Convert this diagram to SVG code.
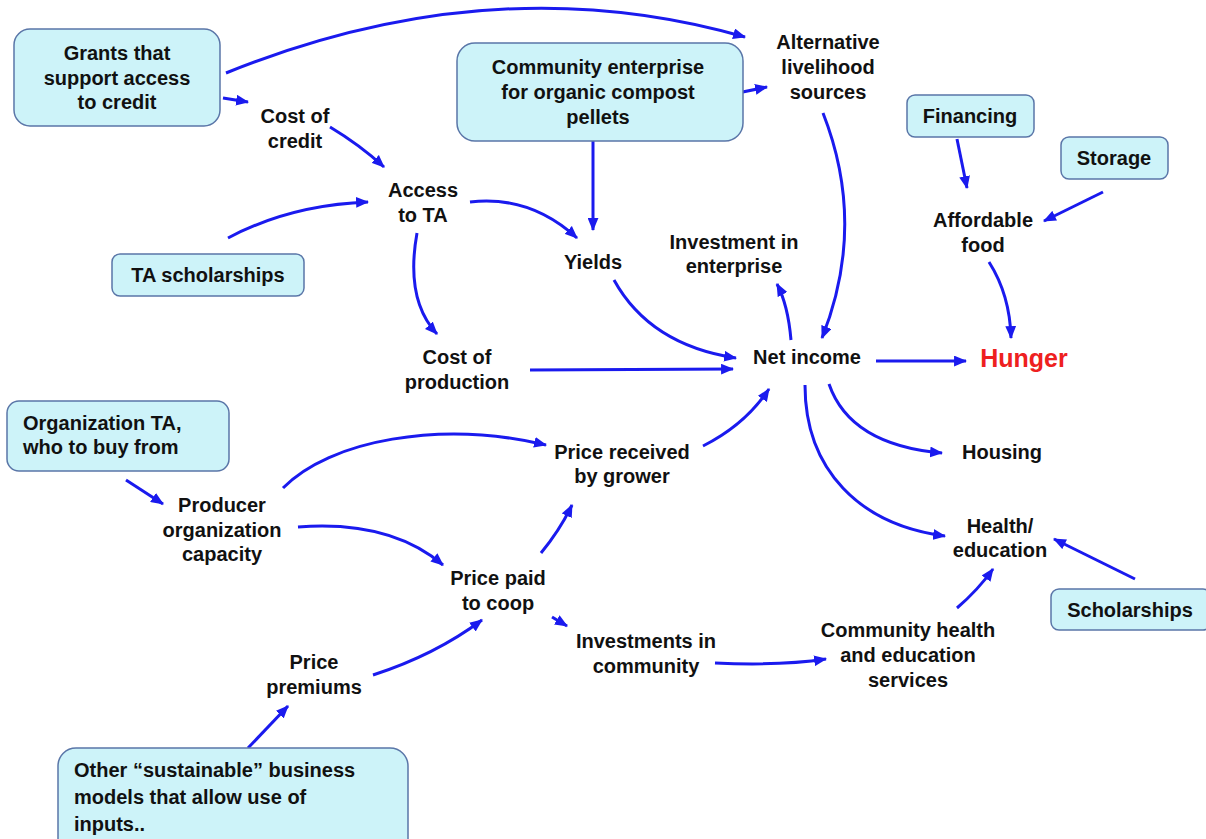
<svg xmlns="http://www.w3.org/2000/svg" width="1206" height="839" viewBox="0 0 1206 839">
<defs>
<style>
.box{fill:#cdf3f9;stroke:#5a76a8;stroke-width:1.5}
.t{font-family:"Liberation Sans",Arial,sans-serif;font-weight:bold;font-size:20px;fill:#111;text-anchor:middle}
.tl{text-anchor:start}
.red{fill:#ee2020;font-size:25px}
.c path{fill:none;stroke:#1a1aee;stroke-width:3;marker-end:url(#ah)}
</style>
<marker id="ah" viewBox="0 0 12 10" markerWidth="13" markerHeight="11" refX="11" refY="5" orient="auto" markerUnits="userSpaceOnUse">
<path d="M0,0 L12,5 L0,10 z" fill="#1a1aee"/>
</marker>
</defs>
<rect width="1206" height="839" fill="#fff"/>
<g class="c" id="connectors">
<path d="M226,73 Q494,-35 745,37"/>
<path d="M223,98 L248,102"/>
<path d="M330,127 Q360,145 384,167"/>
<path d="M228,238 Q290,205 368,202"/>
<path d="M470,202 Q530,195 577,238"/>
<path d="M593,141 L593,230"/>
<path d="M718,97 L767,87"/>
<path d="M417,233 Q405,300 437,334"/>
<path d="M614,280 Q650,345 736,358"/>
<path d="M530,370 L733,369"/>
<path d="M791,340 Q788,305 777,284"/>
<path d="M823,113 Q867,225 822,338"/>
<path d="M876,361 L966,361"/>
<path d="M957,139 L967,188"/>
<path d="M1103,192 L1044,221"/>
<path d="M989,262 Q1010,295 1011,338"/>
<path d="M829,384 Q850,445 942,453"/>
<path d="M805,385 C805,470 860,525 945,536"/>
<path d="M1135,579 L1054,539"/>
<path d="M957,608 Q978,590 993,569"/>
<path d="M715,663 Q780,666 826,659"/>
<path d="M552,617 L567,626"/>
<path d="M373,675 Q435,655 482,620"/>
<path d="M248,748 L288,706"/>
<path d="M298,527 Q390,520 443,565"/>
<path d="M283,488 C330,440 440,420 546,445"/>
<path d="M541,553 Q560,530 572,505"/>
<path d="M703,446 Q745,425 769,389"/>
<path d="M126,480 L163,504"/>
</g>
<g id="grants"><rect class="box" x="14" y="29" width="206" height="97" rx="16"/>
<text class="t" x="117" y="60">Grants that</text><text class="t" x="117" y="85">support access</text><text class="t" x="117" y="109">to credit</text></g>
<g id="costcredit"><text class="t" x="295" y="123">Cost of</text><text class="t" x="295" y="148">credit</text></g>
<g id="accessta"><text class="t" x="423" y="197">Access</text><text class="t" x="423" y="222">to TA</text></g>
<g id="tascholarships"><rect class="box" x="112" y="254" width="192" height="42" rx="8"/>
<text class="t" x="208" y="282">TA scholarships</text></g>
<g id="community"><rect class="box" x="457" y="43" width="286" height="98" rx="18"/>
<text class="t" x="598" y="74">Community enterprise</text><text class="t" x="598" y="99">for organic compost</text><text class="t" x="598" y="124">pellets</text></g>
<g id="alternative"><text class="t" x="828" y="49">Alternative</text><text class="t" x="828" y="74">livelihood</text><text class="t" x="828" y="99">sources</text></g>
<g id="yields"><text class="t" x="593" y="269">Yields</text></g>
<g id="investment"><text class="t" x="734" y="249">Investment in</text><text class="t" x="734" y="273">enterprise</text></g>
<g id="financing"><rect class="box" x="907" y="95" width="127" height="42" rx="8"/>
<text class="t" x="970" y="123">Financing</text></g>
<g id="storage"><rect class="box" x="1061" y="137" width="107" height="42" rx="8"/>
<text class="t" x="1114" y="165">Storage</text></g>
<g id="affordable"><text class="t" x="983" y="227">Affordable</text><text class="t" x="983" y="252">food</text></g>
<g id="hunger"><text class="t red" x="1024" y="367">Hunger</text></g>
<g id="costproduction"><text class="t" x="457" y="364">Cost of</text><text class="t" x="457" y="389">production</text></g>
<g id="netincome"><text class="t" x="807" y="364">Net income</text></g>
<g id="pricereceived"><text class="t" x="622" y="459">Price received</text><text class="t" x="622" y="483">by grower</text></g>
<g id="orgta"><rect class="box" x="7" y="401" width="222" height="70" rx="12"/>
<text class="t tl" x="23" y="430">Organization TA,</text><text class="t tl" x="23" y="454">who to buy from</text></g>
<g id="producer"><text class="t" x="222" y="512">Producer</text><text class="t" x="222" y="537">organization</text><text class="t" x="222" y="561">capacity</text></g>
<g id="housing"><text class="t" x="1002" y="459">Housing</text></g>
<g id="health"><text class="t" x="1000" y="533">Health/</text><text class="t" x="1000" y="557">education</text></g>
<g id="scholarships"><rect class="box" x="1051" y="589" width="160" height="41" rx="8"/>
<text class="t" x="1130" y="617">Scholarships</text></g>
<g id="communityhealth"><text class="t" x="908" y="637">Community health</text><text class="t" x="908" y="662">and education</text><text class="t" x="908" y="687">services</text></g>
<g id="pricepaid"><text class="t" x="498" y="585">Price paid</text><text class="t" x="498" y="610">to coop</text></g>
<g id="investcommunity"><text class="t" x="646" y="648">Investments in</text><text class="t" x="646" y="673">community</text></g>
<g id="premiums"><text class="t" x="314" y="669">Price</text><text class="t" x="314" y="694">premiums</text></g>
<g id="other"><rect class="box" x="58" y="748" width="350" height="110" rx="18"/>
<text class="t tl" x="74" y="777">Other “sustainable” business</text><text class="t tl" x="74" y="804">models that allow use of</text><text class="t tl" x="74" y="831">inputs..</text></g>
</svg>
